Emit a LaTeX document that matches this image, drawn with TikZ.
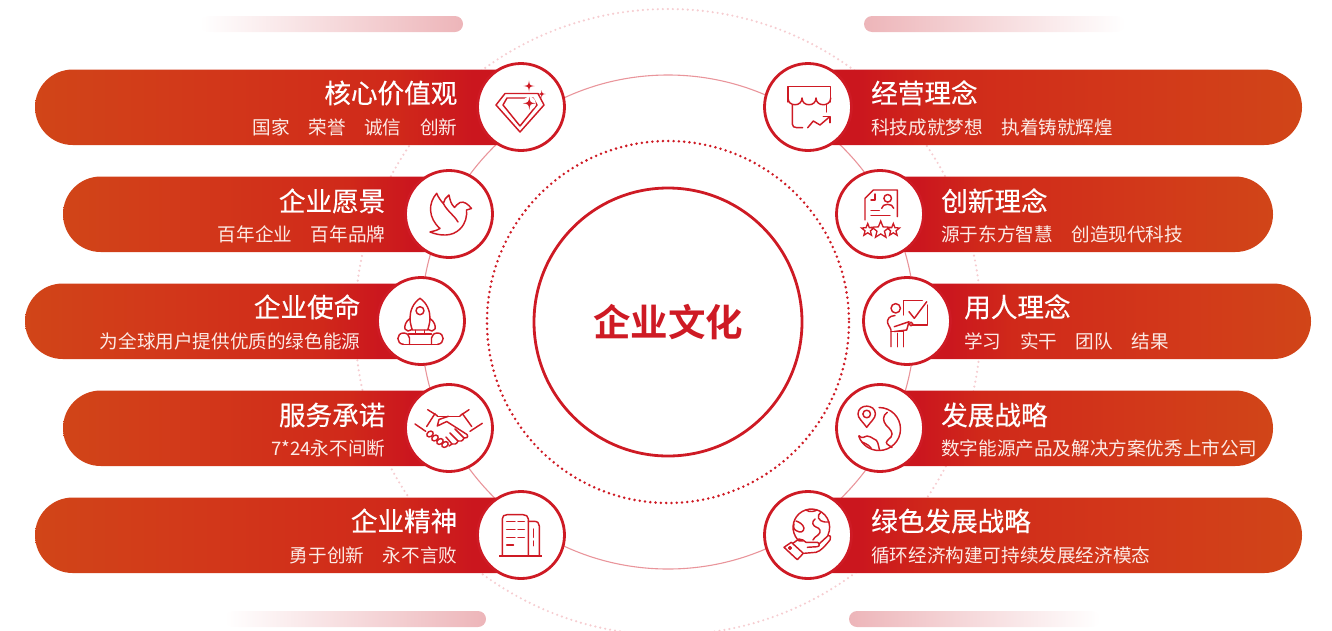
\documentclass[tikz,border=0pt]{standalone}
\usepackage{fontspec}
\usetikzlibrary{shapes.geometric}
\setmainfont{Noto Sans CJK SC}
\newfontfamily\titlefont[FakeBold=0.35]{Noto Sans CJK SC}
\newfontfamily\hubfont{Noto Sans CJK SC Bold}
\definecolor{brand}{HTML}{CE1A24}
\definecolor{orangeend}{HTML}{D14518}
\definecolor{midorange}{HTML}{D2381A}
\definecolor{midred}{HTML}{D0291A}
\definecolor{redend}{HTML}{CB161E}
\definecolor{ringpink}{HTML}{E9959B}
\definecolor{palepink}{HTML}{F6CDD1}
\definecolor{fadepink}{HTML}{EDB5B9}
\definecolor{subtext}{HTML}{FCEBE6}
\pgfdeclarehorizontalshading{barleftfade}{100bp}{color(0bp)=(orangeend); color(25bp)=(orangeend); color(42bp)=(midorange); color(62bp)=(midred); color(70bp)=(redend); color(100bp)=(redend)}
\pgfdeclarehorizontalshading{barrightfade}{100bp}{color(0bp)=(redend); color(30bp)=(redend); color(38bp)=(midred); color(58bp)=(midorange); color(75bp)=(orangeend); color(100bp)=(orangeend)}
\tikzset{
  iconring/.style={circle,draw=brand,line width=2.8pt,fill=white,minimum size=87pt,inner sep=0pt},
  glyph/.style={draw=brand,line width=1.45pt,line join=round,line cap=round},
  titletext/.style={text=white,font=\titlefont\fontsize{26.6}{28}\selectfont,inner sep=0pt,text height=23.4pt,text depth=3.2pt},
  subline/.style={text=subtext,font=\fontsize{18.6}{20}\selectfont,inner sep=0pt,text height=16.4pt,text depth=2.2pt},
  fadebar/.style={rounded corners=8pt},
  starmark/.style={star,star points=5,star point ratio=2.3,draw=brand,line width=1.3pt,fill=white,inner sep=0pt},
}
\newcommand{\leftbar}[3]{\path[shading=barleftfade,shading angle=0] (#3,#2) -- (#1+37.75,#2) arc[start angle=-90,end angle=-270,radius=37.75] -- (#3,#2+75.5) -- cycle;}
\newcommand{\rightbar}[3]{\path[shading=barrightfade,shading angle=0] (#3,#2) -- (#1-37.75,#2) arc[start angle=-90,end angle=90,radius=37.75] -- (#3,#2+75.5) -- cycle;}
\newcommand{\sparkle}[3]{\fill[brand] (#1,#2-#3) .. controls (#1+.12*#3,#2-.12*#3) .. (#1+#3,#2) .. controls (#1+.12*#3,#2+.12*#3) .. (#1,#2+#3) .. controls (#1-.12*#3,#2+.12*#3) .. (#1-#3,#2) .. controls (#1-.12*#3,#2-.12*#3) .. cycle;}
\begin{document}
\begin{tikzpicture}[x=1pt,y=-1pt]
\useasboundingbox (0,0) rectangle (1332,630);
% rings
\draw[palepink,line width=2.4pt,line cap=round,dash pattern=on 0pt off 5pt] (668,322) circle[radius=313];
\draw[ringpink,line width=1.1pt] (668,322) circle[radius=247];
\draw[brand,line width=2.8pt,line cap=round,dash pattern=on 0pt off 5.3pt] (668,322) circle[radius=181];
\node[circle,draw=brand,line width=2.8pt,fill=white,minimum size=268pt,inner sep=0pt] (hub) at (668,322) {};
\node[text=brand,font=\hubfont\fontsize{37.5}{40}\selectfont,inner sep=0pt] (hubtext) at (668,322) {企业文化};
% fading bars
\path[fadebar,left color=white,right color=fadepink] (200,16) rectangle (463,32);
\path[fadebar,left color=fadepink,right color=white] (864,16) rectangle (1125,32);
\path[fadebar,left color=white,right color=fadepink] (225,611) rectangle (486,627);
\path[fadebar,left color=fadepink,right color=white] (849,611) rectangle (1100,627);
% bars
\leftbar{35}{69.5}{521}
\leftbar{63}{176.5}{449}
\leftbar{25}{283.5}{421}
\leftbar{63}{390.5}{449}
\leftbar{35}{497.5}{521}
\rightbar{1302}{69.5}{808}
\rightbar{1273}{176.5}{880}
\rightbar{1311}{283.5}{907}
\rightbar{1273}{390.5}{880}
\rightbar{1302}{497.5}{808}
% icon rings
\node[iconring] (la) at (521,107) {};
\node[iconring] (lb) at (449,214) {};
\node[iconring] (lc) at (421,321) {};
\node[iconring] (ld) at (449,428) {};
\node[iconring] (le) at (521,535) {};
\node[iconring] (ra) at (808,107) {};
\node[iconring] (rb) at (880,214) {};
\node[iconring] (rc) at (907,321) {};
\node[iconring] (rd) at (880,428) {};
\node[iconring] (re) at (808,535) {};
% left texts
\node[titletext,anchor=east] (lat) at (457.5,93) {核心价值观};
\node[subline,anchor=east] (las) at (457.5,127) {国家\hspace{1em}荣誉\hspace{1em}诚信\hspace{1em}创新};
\node[titletext,anchor=east] (lbt) at (385.5,201) {企业愿景};
\node[subline,anchor=east] (lbs) at (385.5,234) {百年企业\hspace{1em}百年品牌};
\node[titletext,anchor=east] (lct) at (360.5,307) {企业使命};
\node[subline,anchor=east] (lcs) at (360.5,341) {为全球用户提供优质的绿色能源};
\node[titletext,anchor=east] (ldt) at (385.5,415) {服务承诺};
\node[subline,anchor=east] (lds) at (385.5,448) {7*24永不间断};
\node[titletext,anchor=east] (let) at (457.5,521) {企业精神};
\node[subline,anchor=east] (les) at (457.5,555) {勇于创新\hspace{1em}永不言败};
% right texts
\node[titletext,anchor=west] (rat) at (871,93) {经营理念};
\node[subline,anchor=west] (ras) at (871,127) {科技成就梦想\hspace{1em}执着铸就辉煌};
\node[titletext,anchor=west] (rbt) at (941,201) {创新理念};
\node[subline,anchor=west] (rbs) at (941,234) {源于东方智慧\hspace{1em}创造现代科技};
\node[titletext,anchor=west] (rct) at (964,307) {用人理念};
\node[subline,anchor=west] (rcs) at (964,341) {学习\hspace{1em}实干\hspace{1em}团队\hspace{1em}结果};
\node[titletext,anchor=west] (rdt) at (941,415) {发展战略};
\node[subline,anchor=west] (rds) at (941,448) {数字能源产品及解决方案优秀上市公司};
\node[titletext,anchor=west] (ret) at (871,521) {绿色发展战略};
\node[subline,anchor=west] (res) at (871,555) {循环经济构建可持续发展经济模态};
% diamond
\draw[glyph] (505,93.5) -- (538,93.5) -- (544,105) -- (520,132) -- (496,105) -- cycle;
\draw[glyph] (507,98) -- (533,98) -- (537,105) -- (520,126) -- (503,105) -- cycle;
\fill[white] (529.3,103.3) circle[radius=6.5];
\sparkle{529}{86}{5.5}
\sparkle{541.7}{94}{4}
\sparkle{529.3}{103.3}{6.5}
% dove
\draw[glyph] (436.7,193.3) .. controls (428,203) and (428,218) .. (440,228.5) .. controls (436,231) and (433,231) .. (430,232) .. controls (440,236) and (452,237) .. (460,229) .. controls (466,223) and (467,216) .. (466.5,210) -- (471.5,208.5) .. controls (468,204) and (464,201) .. (460,202.5) .. controls (457,204) and (456,206) .. (454.5,207.5) .. controls (451,204) and (450,200) .. (449,195) .. controls (446,197) and (444,200) .. (443.3,203.5) .. controls (441,201) and (438,197) .. (436.7,193.3) -- cycle;
\draw[glyph] (443.3,203.5) .. controls (448,212) and (454,215) .. (458,222);
% rocket
\draw[glyph] (420,298.3) .. controls (413,303) and (410,311) .. (410,318) .. controls (410,322) and (411,326) .. (412.3,330) -- (427.7,330) .. controls (429,326) and (430,322) .. (430,318) .. controls (430,311) and (427,303) .. (420,298.3) -- cycle;
\draw[glyph] (420,310.7) circle[radius=4];
\draw[glyph] (410,318.5) .. controls (406,321) and (404,326) .. (405,329) -- (408,331) -- (412,329.5);
\draw[glyph] (430,318.5) .. controls (434,321) and (436,326) .. (435,329) -- (432,331) -- (428,329.5);
\draw[glyph] (415.7,330.3) -- (415.7,334) -- (424.3,334) -- (424.3,330.3);
\draw[glyph] (408.5,334) -- (431.5,334);
\draw[glyph] (403.5,344.3) -- (437.5,344.3);
\draw[glyph] (403.5,344.3) .. controls (396,344) and (396,333) .. (403.5,333) .. controls (407,333) and (409,335) .. (409.5,338) -- (409.5,344.3);
\draw[glyph] (437.5,344.3) .. controls (445,344) and (445,333) .. (437.5,333) .. controls (434,333) and (432,335) .. (431.5,338) -- (431.5,344.3);
% handshake
\draw[glyph] (427.7,409.7) -- (437.3,415.7);
\draw[glyph] (415,424) -- (425.7,431.3);
\draw[glyph] (469,409.7) -- (460,415.7);
\draw[glyph] (482.3,423.3) -- (470,431.3);
\draw[glyph] (435,413.5) -- (426.7,426.5);
\draw[glyph] (462.3,413.5) -- (471.7,426.5);
\draw[glyph] (437.3,416.3) -- (460,416.3);
\draw[glyph] (448.3,416.3) -- (439,419.5) -- (437.3,426) -- (446.7,421.5) -- (467,434.5) .. controls (469,437) and (466,439) .. (464,438) .. controls (463,441) and (460,442) .. (458,441) .. controls (457,444) and (454,445) .. (452,444) -- (449,446);
\draw[glyph] (455,429) -- (464,438);
\draw[glyph] (450,433) -- (458,441);
\draw[glyph] (446,437) -- (452,444);
\draw[glyph,rotate around={35:(430,434)}] (430,434) ellipse[x radius=3.5,y radius=2.6];
\draw[glyph,rotate around={35:(435,438)}] (435,438) ellipse[x radius=3.5,y radius=2.6];
\draw[glyph,rotate around={35:(440,441.5)}] (440,441.5) ellipse[x radius=3.5,y radius=2.6];
\draw[glyph,rotate around={35:(445,444.5)}] (445,444.5) ellipse[x radius=3.5,y radius=2.6];
% building
\draw[glyph] (502.3,556) -- (502.3,519) .. controls (502.3,516) and (504,514.7) .. (507,514.7) -- (523,514.7) .. controls (526,514.7) and (528.3,516) .. (528.3,519) -- (528.3,556);
\draw[glyph] (528.3,521.3) -- (534,521.3) .. controls (537.5,521.3) and (539.3,523) .. (539.3,526) -- (539.3,556);
\draw[brand,line width=1.8pt] (499,556) -- (541.7,556);
\foreach \yy in {521.7,529.7,537.7}{\draw[glyph] (506.7,\yy) -- (515,\yy); \draw[glyph] (518,\yy) -- (524.3,\yy);}
\draw[glyph] (506.7,545) -- (513.5,545);
\draw[glyph] (533.3,529) -- (533.3,537.3);
\draw[glyph] (533.3,541) -- (533.3,545.7);
% shop
\draw[glyph] (788,102) -- (788,86.7) -- (830.7,86.7) -- (830.7,102);
\draw[glyph] (788,98) .. controls (788,107) and (802,107) .. (802,98) .. controls (802,107) and (816,107) .. (816,98) .. controls (816,107) and (830.7,107) .. (830.7,98);
\draw[glyph] (792.3,105) -- (792.3,124) .. controls (792.3,126.5) and (794,127.7) .. (797,127.7) -- (802.7,127.7);
\draw[glyph] (826.7,105) -- (826.7,112);
\draw[glyph] (807.7,127.7) -- (813.3,121) -- (820,125) -- (829,117.3);
\draw[glyph] (823.3,116.7) -- (830,116.7) -- (830,122.7);
% certificate
\draw[glyph] (865,220) -- (865,198.3) -- (873.3,190) -- (897.3,190) -- (897.3,216.7);
\draw[glyph] (871,200) -- (875,200) -- (875,194);
\draw[glyph] (887.7,198.3) circle[radius=3.8];
\draw[glyph] (881.7,208.3) .. controls (882,203) and (893,203) .. (893.7,208.3);
\draw[glyph] (871,210.7) -- (879.3,210.7);
\draw[glyph] (871,215.7) -- (890,215.7);
\node[starmark,minimum size=13pt] (stara) at (867.7,230) {};
\node[starmark,minimum size=13pt] (starb) at (893.3,230) {};
\node[starmark,minimum size=18pt] (starc) at (880.7,230) {};
% teacher
\draw[glyph] (903.3,315) -- (903.3,300.7) -- (922.3,300.7);
\draw[glyph] (927.7,305) -- (927.7,325) -- (912.3,325);
\draw[glyph] (909,311.7) -- (914.3,318.3) -- (926.7,301.7);
\draw[glyph] (895.7,308.3) circle[radius=4.7];
\draw[glyph] (895,315.5) .. controls (889,316) and (887,319) .. (887.7,323) .. controls (889,327) and (891,328) .. (891,330) -- (891,346.7);
\draw[glyph] (897.3,333.3) -- (897.3,346.7);
\draw[glyph] (903.3,331) -- (903.3,346.7);
\draw[glyph] (891,331.5) -- (903.3,331.5);
\draw[glyph] (894.3,326.7) -- (909,321.7) -- (906.7,330) -- (894.3,331.5);
\draw[glyph] (911,324) circle[radius=1.8];
% globe with pin
\draw[glyph] (879,407.5) arc[start angle=-90,end angle=160,radius=21.5];
\draw[glyph] (866.7,427.3) .. controls (862,421) and (858,418) .. (858,414) .. controls (858,403.5) and (875.4,403.5) .. (875.4,414) .. controls (875.4,418) and (871.4,421) .. (866.7,427.3) -- cycle;
\draw[glyph] (866.7,414) circle[radius=3.8];
\draw[glyph] (887.3,412.3) .. controls (882,416) and (883,421) .. (886,425) .. controls (890,429) and (894,433) .. (891,437) .. controls (888,440) and (885,442) .. (887,444) -- (892,447.5);
\draw[glyph] (859,435.7) .. controls (862,439) and (864,437) .. (867,436) .. controls (870,435.5) and (871,438) .. (874,439) .. controls (878,440) and (878,444) .. (879.5,450);
\draw[glyph] (862,442) .. controls (864,443) and (868,444) .. (871,448);
% globe with hand
\draw[glyph] (795.5,536.5) arc[start angle=150,end angle=385,radius=18.3];
\draw[glyph] (795.5,536.5) .. controls (798,541) and (800,542) .. (803,541);
\draw[glyph] (796,521) .. controls (799,522) and (803,524) .. (804,528) .. controls (804,532) and (800,533) .. (797,531) .. controls (794,530) and (793,527) .. (794,524);
\draw[glyph] (806,510) .. controls (810,513) and (815,511) .. (817,510);
\draw[glyph] (821,512) .. controls (816,516) and (818,521) .. (825,522) -- (829,522);
\draw[glyph] (815,519) .. controls (811,522) and (813,526) .. (816,527) .. controls (820,528) and (822,532) .. (818,535) .. controls (815,536) and (814,539) .. (813,540);
\draw[glyph] (784,547.3) -- (791.3,542.3) -- (803.3,553.3) -- (797.3,559.7) -- cycle;
\draw[glyph] (790,548) circle[radius=1.3];
\draw[glyph] (792.8,543.3) -- (799,539) .. controls (802,538.5) and (804,541) .. (806,542.3) -- (817.3,542.3) .. controls (820,543) and (820,546.7) .. (817,546.7) -- (807.3,547.3);
\draw[glyph] (819,544) -- (828,535.7) .. controls (831,535) and (831,538) .. (830,540) .. controls (825,546) and (821,551) .. (816,552.3) -- (804,553.3);
\end{tikzpicture}
\end{document}
